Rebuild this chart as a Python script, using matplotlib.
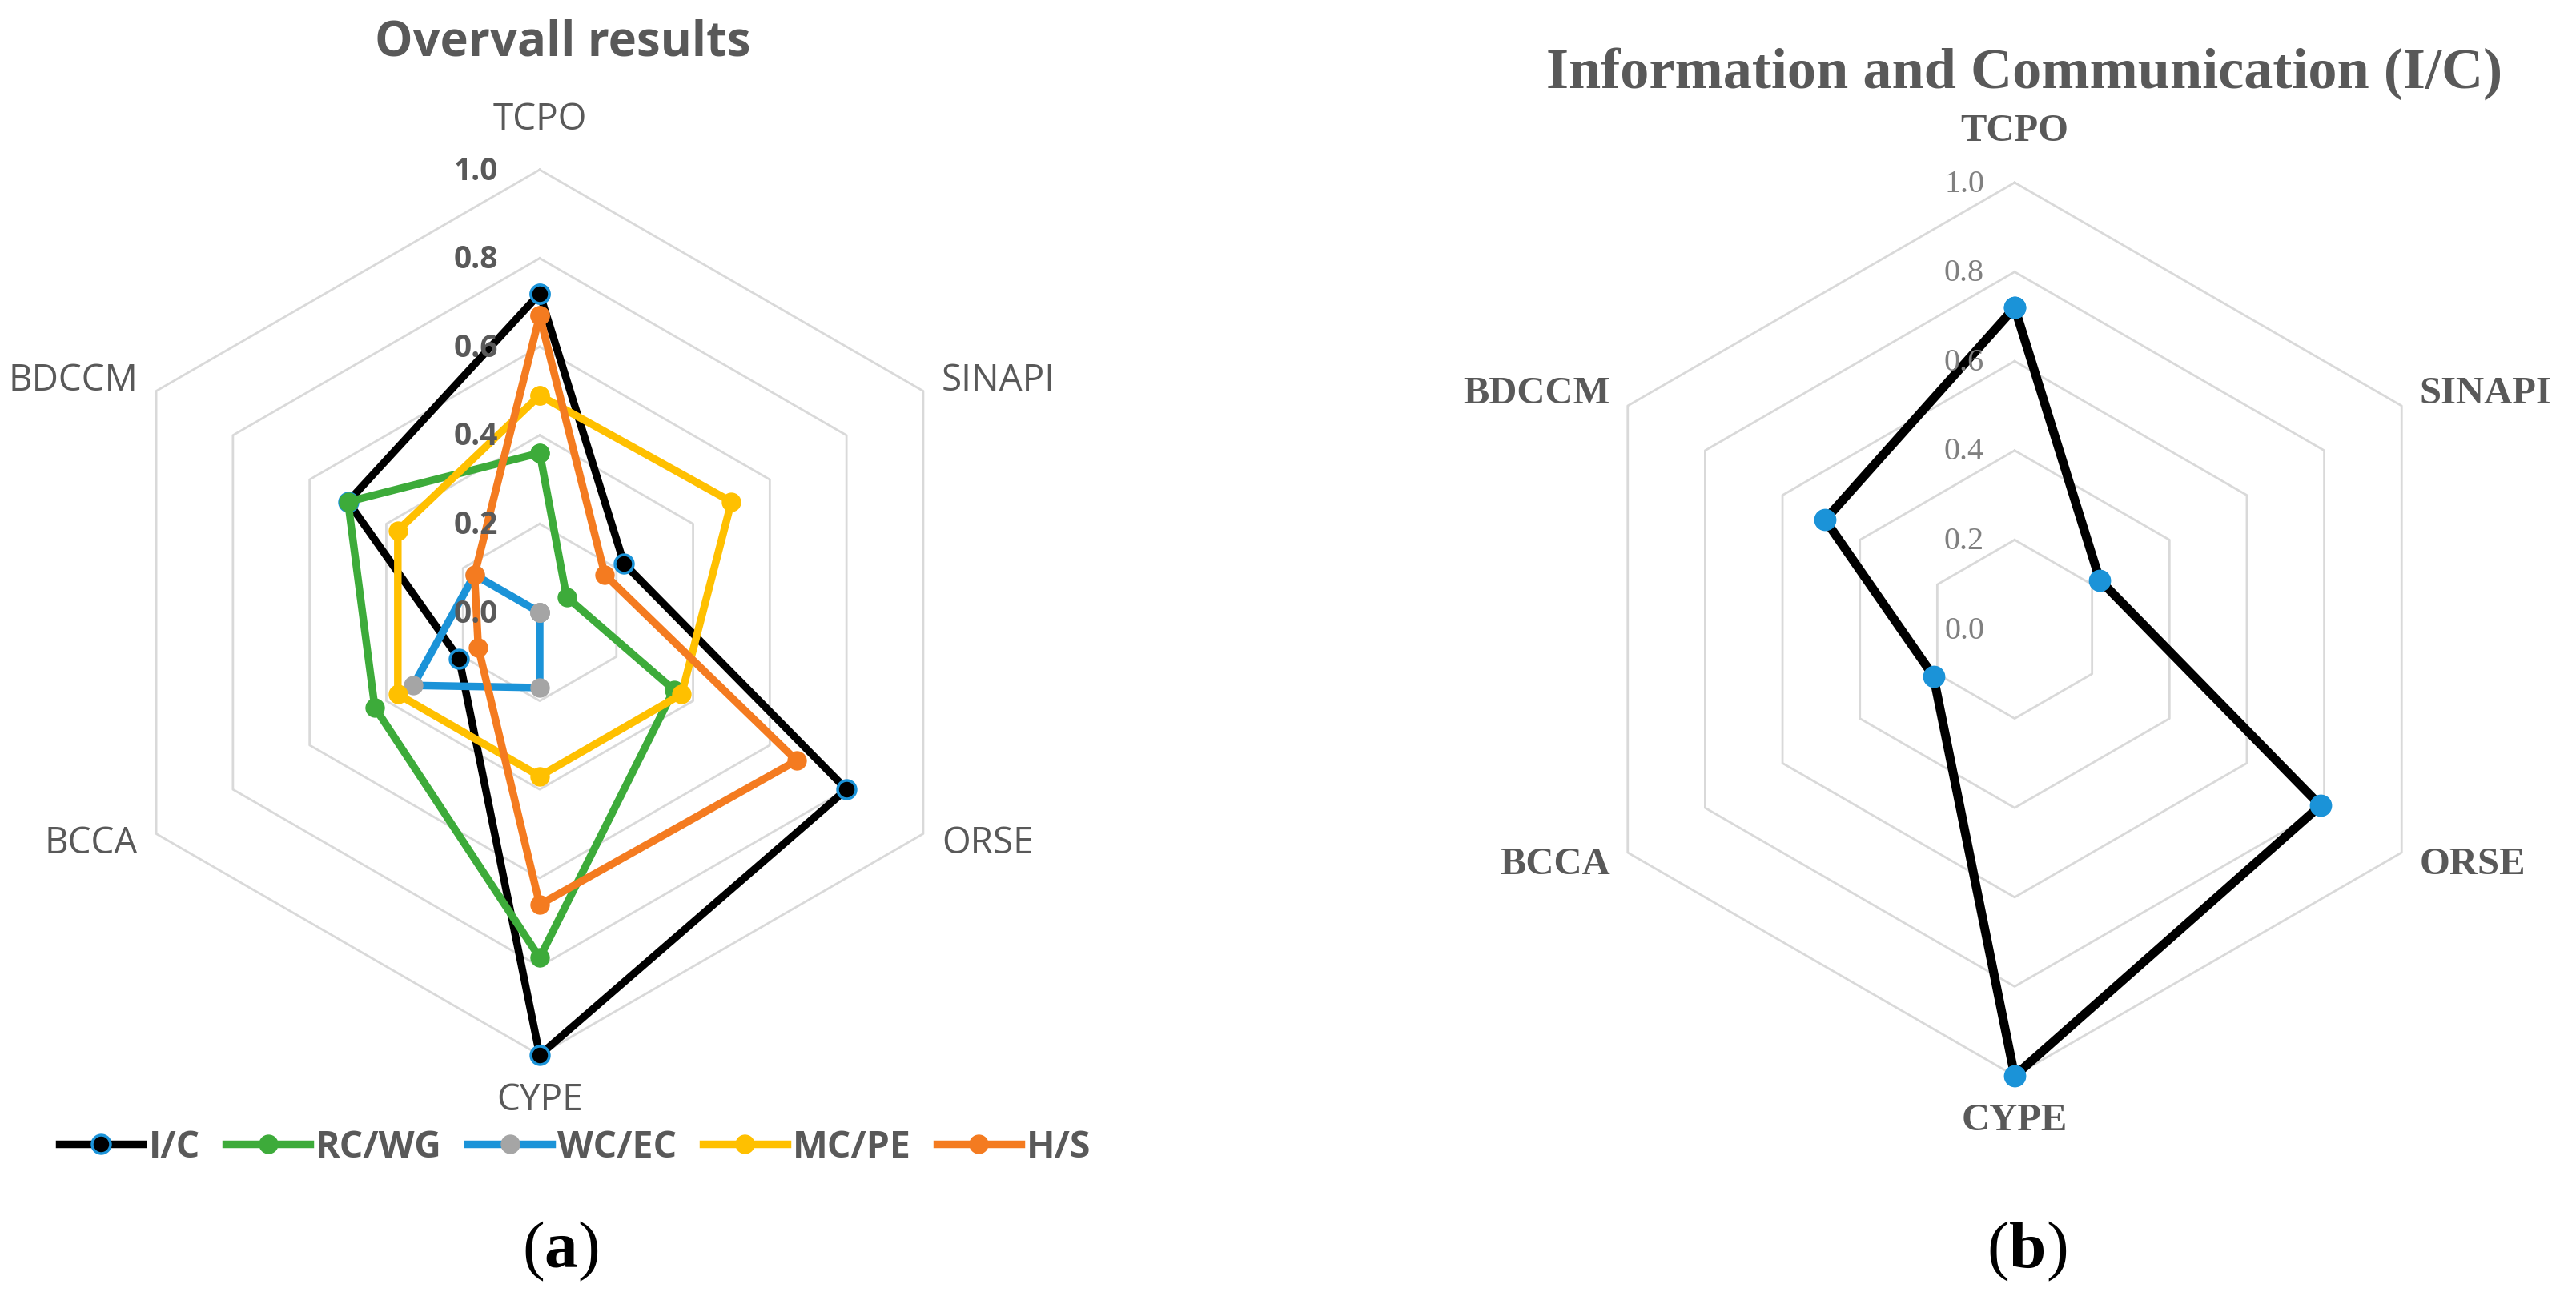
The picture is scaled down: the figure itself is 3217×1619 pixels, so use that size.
import numpy as np
import matplotlib
matplotlib.use("Agg")
import matplotlib.pyplot as plt
from matplotlib.lines import Line2D

# ---------------- data ----------------
categories = ["TCPO", "SINAPI", "ORSE", "CYPE", "BCCA", "BDCCM"]
series_names = ["I/C", "RC/WG", "WC/EC", "MC/PE", "H/S"]
ic_values = [0.72, 0.22, 0.80, 1.00, 0.21, 0.50]
rcwg_values = [0.36, 0.07, 0.35, 0.78, 0.43, 0.50]
wcec_values = [0.00, 0.00, 0.00, 0.17, 0.33, 0.17]
mcpe_values = [0.49, 0.50, 0.37, 0.37, 0.37, 0.37]
hs_values = [0.67, 0.17, 0.67, 0.66, 0.16, 0.17]
ic_b_values = [0.72, 0.22, 0.79, 1.00, 0.21, 0.49]
rticks = [0.0, 0.2, 0.4, 0.6, 0.8, 1.0]
title_a = "Overvall results"
title_b = "Information and Communication (I/C)"

# ---------------- style ----------------
line_colors = ["#000000", "#3dab3a", "#1b93d8", "#ffc000", "#f47b20"]
marker_face = ["#000000", "#3dab3a", "#a5a5a5", "#ffc000", "#f47b20"]
marker_edge = ["#1b93d8", "#3dab3a", "#a5a5a5", "#ffc000", "#f47b20"]
grid_color = "#d9d9d9"
txt_dark = "#595959"

W, H = 3217, 1619
fig = plt.figure(figsize=(W / 100, H / 100), dpi=100)

PX = 0.72  # points per pixel at dpi 100

n = len(categories)
angles = np.linspace(0, 2 * np.pi, n, endpoint=False)
ang_closed = np.concatenate([angles, angles[:1]])


def make_ax(cx, cy, R):
    ax = fig.add_axes([(cx - R) / W, (H - cy - R) / H, 2 * R / W, 2 * R / H],
                      projection="polar")
    ax.set_theta_offset(np.pi / 2)
    ax.set_theta_direction(-1)
    ax.set_ylim(0, 1)
    ax.set_axis_off()
    for r in rticks[1:]:
        ax.plot(ang_closed, [r] * (n + 1), color=grid_color, lw=2.0,
                zorder=1, clip_on=False)
    return ax


def closed(v):
    return list(v) + [v[0]]


# ---------------- left chart ----------------
axL = make_ax(674, 765, 553)
fontL = "Open Sans"
for i, (name, vals) in enumerate(zip(series_names,
                                     [ic_values, rcwg_values, wcec_values,
                                      mcpe_values, hs_values])):
    axL.plot(ang_closed, closed(vals), color=line_colors[i], lw=6.8,
             marker="o", ms=16.5, mfc=marker_face[i], mec=marker_edge[i],
             mew=2.5 if i == 0 else 1.0, zorder=3 + i, clip_on=False,
             solid_joinstyle="miter")

for r in rticks:
    axL.annotate(f"{r:.1f}", xy=(0, r), xytext=(-52 * PX, -2 * PX),
                 textcoords="offset points", ha="right", va="center",
                 fontsize=28, fontweight="bold", color=txt_dark,
                 family=fontL, zorder=20)

offL = [(0, 62, "center"), (23, 13, "left"), (23, -12, "left"),
        (0, -57, "center"), (-23, -12, "right"), (-23, 13, "right")]
for a, cat, (dx, dy, ha) in zip(angles, categories, offL):
    axL.annotate(cat, xy=(a, 1.0), xytext=(dx * PX, dy * PX),
                 textcoords="offset points", ha=ha, va="center",
                 fontsize=33, color=txt_dark, family=fontL)

fig.text(703 / W, 1 - 70 / H, title_a, ha="center", va="baseline",
         fontsize=43, fontweight="bold", color=txt_dark, family=fontL)

handles = []
for i, name in enumerate(series_names):
    handles.append(Line2D([], [], color=line_colors[i], lw=6.8, marker="o",
                          ms=16.5, mfc=marker_face[i], mec=marker_edge[i],
                          mew=2.5 if i == 0 else 1.0))
leg = fig.legend(handles, series_names, loc="center",
                 bbox_to_anchor=(718 / W, 1 - 1433 / H), ncol=5,
                 frameon=False, handlelength=2.25, handletextpad=0.15,
                 columnspacing=0.7,
                 prop={"family": fontL, "size": 33.5, "weight": "bold"})
for t in leg.get_texts():
    t.set_color(txt_dark)

# ---------------- right chart ----------------
axR = make_ax(2516, 786, 558)
fontR = "Liberation Serif"
axR.plot(ang_closed, closed(ic_b_values), color="#000000", lw=8,
         marker="o", ms=19, mfc="#1b93d8", mec="#1b93d8", zorder=5,
         clip_on=False, solid_joinstyle="miter")

for r in rticks:
    axR.annotate(f"{r:.1f}", xy=(0, r), xytext=(-38 * PX, -2 * PX),
                 textcoords="offset points", ha="right", va="center",
                 fontsize=29, color="#808080", family=fontR, zorder=20)

offR = [(0, 64, "center"), (22, 15, "left"), (22, -15, "left"),
        (0, -56, "center"), (-22, -15, "right"), (-22, 15, "right")]
for a, cat, (dx, dy, ha) in zip(angles, categories, offR):
    axR.annotate(cat, xy=(a, 1.0), xytext=(dx * PX, dy * PX),
                 textcoords="offset points", ha=ha, va="center",
                 fontsize=35, fontweight="bold", color=txt_dark,
                 family=fontR)

fig.text(2528 / W, 1 - 110 / H, title_b, ha="center", va="baseline",
         fontsize=52, fontweight="bold", color=txt_dark, family=fontR)

# ---------------- sub labels ----------------
plt.rcParams["mathtext.fontset"] = "custom"
plt.rcParams["mathtext.bf"] = "Liberation Serif:bold"
plt.rcParams["mathtext.rm"] = "Liberation Serif"
fig.text(700 / W, 1 - 1583 / H, r"($\mathbf{a}$)", ha="center",
         va="baseline", fontsize=60, family=fontR, color="black")
fig.text(2531 / W, 1 - 1583 / H, r"($\mathbf{b}$)", ha="center",
         va="baseline", fontsize=60, family=fontR, color="black")

fig.savefig("out.png", dpi=100, facecolor="white")
